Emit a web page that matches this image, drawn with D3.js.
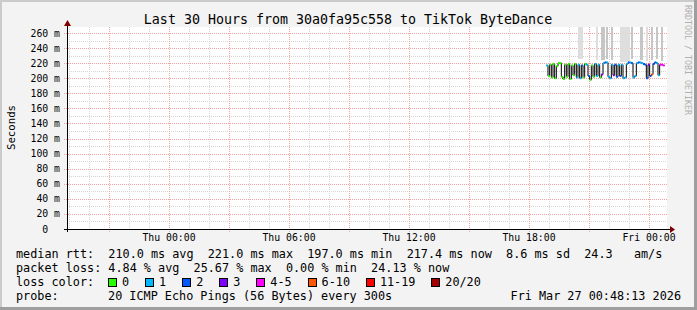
<!DOCTYPE html>
<html>
<head>
<meta charset="utf-8">
<script src="https://cdnjs.cloudflare.com/ajax/libs/d3/7.8.5/d3.min.js"></script>
<style>
  body { margin: 0; background: #f3f3f3; }
  svg { display: block; }
  text { font-family: "DejaVu Sans Mono", monospace; fill: #000; white-space: pre; }
</style>
</head>
<body>
<svg id="chart"></svg>
<script>
"use strict";

// median rtt per 5 minute sample (ms), first sample ends Thu 18:57
var rtt = [217,203,218,201,219,200,216,220,220,202,199,
           218,202,219,199,217,204,219,201,218,200,217,
           201,219,218,203,198,217,202,219,203,218,201,
           205,220,221,221,202,200,218,204,218,202,218,
           203,218,200,201,219,221,221,220,201,203,220,
           221,221,220,219,218,200,218,203,205,219,221,
           220,204,218,218,217];

// pings lost (of 20) per sample
var lost = [1,0,0,0,0,0,0,0,0,0,
            0,0,0,0,0,0,0,0,1,1,
            1,2,0,0,1,2,0,0,0,1,
            1,1,0,3,1,2,1,1,1,1,
            3,2,2,1,2,1,1,1,1,2,
            1,2,1,1,1,2,1,1,2,2,
            2,3,2,6,2,2,1,1,5,5,5];

// smoke bands: [sample index, low ms, high ms]
var smokeOuter = [[19,226,400],[20,226,400],[21,226,400],[30,224,400],
                  [44,222,400],[45,222,400],[46,222,400],[47,222,400],[48,222,400],[49,222,400],
                  [60,223,400]];
var smokeInner = [[33,224,400],[34,224,400],[36,225,400],[39,224,400],[51,225,400],
                  [56,224,400],[57,224,400],[63,224,400],[66,225,400],[69,223,400]];

var lossLabels = ["0", "1", "2", "3", "4-5", "6-10", "11-19", "20/20"];
var lossColors = ["#26ff00", "#00b8ff", "#0059ff", "#7e00ff", "#ff00ff", "#ff5500", "#ff0000", "#a10000"];
var lossBreaks = [1, 2, 3, 4, 6, 11, 20];

var yTicks = d3.range(20, 261, 20);
var yMinor = d3.range(10, 261, 20);

var statLines = [
  "median rtt:  210.0 ms avg  221.0 ms max  197.0 ms min  217.4 ms now  8.6 ms sd  24.3   am/s",
  "packet loss: 4.84 % avg  25.67 % max  0.00 % min  24.13 % now"
];
var probeText = "20 ICMP Echo Pings (56 Bytes) every 300s";
var stampText = "Fri Mar 27 00:48:13 2026";
var titleText = "Last 30 Hours from 30a0fa95c558 to TikTok ByteDance";

var firstSample = new Date(2026, 2, 26, 18, 57);
var stepMin = 5;

var W = 697, H = 310;
var pLeft = 67, pRight = 667, pTop = 27, pBottom = 229;
var cw = 11.8 * 0.6;

var svg = d3.select('#chart').attr('width', W).attr('height', H);

var x = d3.scaleTime()
  .domain([new Date(2026, 2, 25, 18, 54), new Date(2026, 2, 27, 0, 54)])
  .range([pLeft, pRight]);
var y = d3.scaleLinear().domain([0, 268]).range([pBottom, pTop]).clamp(true);
var lossClass = d3.scaleThreshold().domain(lossBreaks).range(d3.range(8));

// frame
svg.append('rect').attr('width', W).attr('height', H).attr('fill', '#f3f3f3');
svg.append('rect').attr('width', W).attr('height', 2).attr('fill', '#cbcbcb');
svg.append('rect').attr('width', 2).attr('height', H).attr('fill', '#cbcbcb');
svg.append('rect').attr('y', H - 3).attr('width', W).attr('height', 3).attr('fill', '#9e9e9e');
svg.append('rect').attr('x', W - 3).attr('width', 3).attr('height', H).attr('fill', '#9e9e9e');

svg.append('rect')
  .attr('x', pLeft).attr('y', pTop)
  .attr('width', pRight - pLeft).attr('height', pBottom - pTop)
  .attr('fill', '#fff');

// grid
var grid = svg.append('g').attr('shape-rendering', 'crispEdges').attr('stroke-dasharray', '1,1');

var hours = x.ticks(d3.timeHour.every(1));
grid.selectAll('.vmin').data(hours.filter(function(d) { return d.getHours() % 3 != 0; }))
  .enter().append('line')
  .attr('x1', function(d) { return Math.round(x(d)) + 0.5; })
  .attr('x2', function(d) { return Math.round(x(d)) + 0.5; })
  .attr('y1', pTop).attr('y2', pBottom)
  .attr('stroke', '#d4d4d4');

grid.selectAll('.hmin').data(yMinor)
  .enter().append('line')
  .attr('x1', pLeft).attr('x2', pRight)
  .attr('y1', function(d) { return Math.round(y(d)) + 0.5; })
  .attr('y2', function(d) { return Math.round(y(d)) + 0.5; })
  .attr('stroke', '#d4d4d4');

grid.selectAll('.vmaj').data(x.ticks(d3.timeHour.every(3)))
  .enter().append('line')
  .attr('x1', function(d) { return Math.round(x(d)) + 0.5; })
  .attr('x2', function(d) { return Math.round(x(d)) + 0.5; })
  .attr('y1', pTop).attr('y2', pBottom + 3)
  .attr('stroke', '#f2a0a0');

grid.selectAll('.hmaj').data(yTicks)
  .enter().append('line')
  .attr('x1', pLeft - 3).attr('x2', pRight)
  .attr('y1', function(d) { return Math.round(y(d)) + 0.5; })
  .attr('y2', function(d) { return Math.round(y(d)) + 0.5; })
  .attr('stroke', '#f2a0a0');

// samples
var samples = rtt.map(function(v, i) {
  var end = d3.timeMinute.offset(firstSample, i * stepMin);
  return { t0: d3.timeMinute.offset(end, -stepMin), t1: end, v: v, cls: lossClass(lost[i]) };
});

function drawSmoke(band, color) {
  svg.append('g').selectAll('rect')
    .data(band)
    .enter().append('rect')
    .attr('x', function(d) { return x(samples[d[0]].t0); })
    .attr('width', function(d) { return x(samples[d[0]].t1) - x(samples[d[0]].t0); })
    .attr('y', function(d) { return y(d[2]); })
    .attr('height', function(d) { return y(d[1]) - y(d[2]); })
    .attr('fill', color)
    .attr('shape-rendering', 'crispEdges');
}
drawSmoke(smokeOuter, '#dedede');
drawSmoke(smokeInner, '#c6c6c6');

var steps = [];
samples.forEach(function(d) {
  steps.push({ t: d.t0, v: d.v });
  steps.push({ t: d.t1, v: d.v });
});

var line = d3.line()
  .x(function(d) { return x(d.t); })
  .y(function(d) { return y(d.v); });

svg.append('path')
  .attr('d', line(steps))
  .attr('fill', 'none')
  .attr('stroke', '#000')
  .attr('stroke-width', 1);

// loss coloured median bars
svg.append('g').selectAll('rect')
  .data(samples)
  .enter().append('rect')
  .attr('x', function(d) { return x(d.t0); })
  .attr('width', function(d) { return x(d.t1) - x(d.t0); })
  .attr('y', function(d) { return y(d.v) - 1; })
  .attr('height', 2)
  .attr('fill', function(d) { return lossColors[d.cls]; });

// axes
svg.append('line')
  .attr('x1', pLeft - 3).attr('x2', pRight + 4)
  .attr('y1', pBottom + 0.5).attr('y2', pBottom + 0.5)
  .attr('stroke', '#000').attr('shape-rendering', 'crispEdges');
svg.append('path')
  .attr('d', 'M' + (pRight + 3) + ',' + (pBottom - 3) + 'L' + (pRight + 8) + ',' + (pBottom + 0.5) + 'L' + (pRight + 3) + ',' + (pBottom + 4) + 'Z')
  .attr('fill', '#7f0000');
svg.append('line')
  .attr('x1', pLeft + 0.5).attr('x2', pLeft + 0.5)
  .attr('y1', pBottom + 3).attr('y2', pTop - 2)
  .attr('stroke', '#000').attr('shape-rendering', 'crispEdges');
svg.append('path')
  .attr('d', 'M' + (pLeft - 3) + ',' + (pTop - 1) + 'L' + (pLeft + 0.5) + ',' + (pTop - 7) + 'L' + (pLeft + 4) + ',' + (pTop - 1) + 'Z')
  .attr('fill', '#7f0000');

// tick labels
svg.append('g').selectAll('text')
  .data([0].concat(yTicks))
  .enter().append('text')
  .attr('x', function(d) { return d === 0 ? 60 - 2 * 9.8 * 0.6 : 60; })
  .attr('y', function(d) { return y(d) + 3.5; })
  .attr('text-anchor', 'end')
  .attr('font-size', 9.8)
  .text(function(d) { return d === 0 ? '0' : d + ' m'; });

svg.append('g').selectAll('text')
  .data(x.ticks(d3.timeHour.every(6)))
  .enter().append('text')
  .attr('x', function(d) { return x(d); })
  .attr('y', 241)
  .attr('text-anchor', 'middle')
  .attr('font-size', 9.8)
  .text(d3.timeFormat('%a %H:%M'));

// titles
svg.append('text')
  .attr('x', 348).attr('y', 23.5)
  .attr('text-anchor', 'middle')
  .attr('font-size', 13.3)
  .text(titleText);

svg.append('text')
  .attr('transform', 'translate(14.5,127.5) rotate(-90)')
  .attr('text-anchor', 'middle')
  .attr('font-size', 10.7)
  .text('Seconds');

svg.append('text')
  .attr('transform', 'translate(685,5) rotate(90)')
  .attr('font-size', 8.3)
  .style('fill', '#b0b0b0')
  .text('RRDTOOL / TOBI OETIKER');

// legend
var legend = svg.append('g').attr('font-size', 11.8);
legend.selectAll('.stat').data(statLines)
  .enter().append('text')
  .attr('x', 16)
  .attr('y', function(d, i) { return 258 + i * 14; })
  .text(function(d) { return d; });

legend.append('text').attr('x', 16).attr('y', 286).text('loss color:');
var bx = 16 + 13 * cw;
lossLabels.forEach(function(lbl, k) {
  legend.append('rect')
    .attr('x', Math.round(bx) + 0.5).attr('y', 278.5)
    .attr('width', 8).attr('height', 8)
    .attr('fill', lossColors[k])
    .attr('stroke', '#000')
    .attr('shape-rendering', 'crispEdges');
  legend.append('text').attr('x', bx + 14).attr('y', 286).text(lbl);
  bx = bx + 14 + lbl.length * cw + 16;
});

legend.append('text').attr('x', 16).attr('y', 300).text('probe:');
legend.append('text').attr('x', 16 + 13 * cw).attr('y', 300).text(probeText);
legend.append('text').attr('x', 681).attr('y', 300).attr('text-anchor', 'end').text(stampText);
</script>
</body>
</html>
